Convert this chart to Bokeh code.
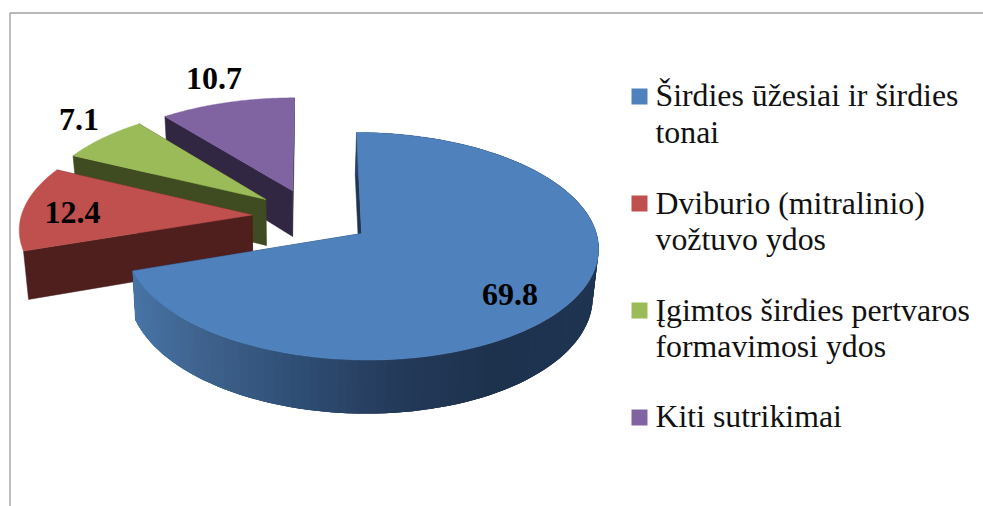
import numpy as np
from bokeh.plotting import figure
from bokeh.models import Range1d
from bokeh.core.properties import value
from bokeh.embed import file_html
from bokeh.resources import INLINE

categories = ["Širdies ūžesiai ir širdies tonai", "Dviburio (mitralinio) vožtuvo ydos",
              "Įgimtos širdies pertvaros formavimosi ydos", "Kiti sutrikimai"]
legend_lines = [["Širdies ūžesiai ir širdies", "tonai"], ["Dviburio (mitralinio)", "vožtuvo ydos"],
                ["Įgimtos širdies pertvaros", "formavimosi ydos"], ["Kiti sutrikimai"]]
values = [69.8, 12.4, 7.1, 10.7]
labels = ["69.8", "12.4", "7.1", "10.7"]
top_colors = ["#4f81bd", "#c0504d", "#9bbb59", "#8064a2"]
wall_colors = ["#1f3552", "#4f1f1e", "#3f4b20", "#322743"]

# projection of the tilted, exploded pie
EXPL, K, R, B, X0, Y0 = 0.26, 0.11, 231.0, 108.6, 311.4, 216.3
DEPTH, VX, SHRINK = 46.8, 288.0, 0.981
label_xy = [(509.5, 305), (72, 222.5), (78.5, 130), (213.5, 89)]
legend_y = [[105.7, 142.7], [214, 250], [320.7, 356.7], [427.3]]
legend_sq = [96, 203, 310, 417]
grad_x = [135, 200, 300, 400, 500, 600]
grad_r = [0x47, 0x40, 0x2f, 0x25, 0x1d, 0x1f]
grad_g = [0x74, 0x64, 0x4f, 0x3b, 0x32, 0x35]
grad_b = [0xa6, 0x8f, 0x75, 0x5b, 0x4d, 0x52]
TEXT_SHIFT = -11


def top_pt(U, V):
    s = 1 / (1 - K * np.asarray(V))
    return X0 + R * np.asarray(U) * s, Y0 + B * np.asarray(V) * s


def bot_pt(U, V):
    x, y = top_pt(U, V)
    s = 1 / (1 - K * np.asarray(V))
    return VX + (x - VX) * SHRINK, y + DEPTH * s


p = figure(width=983, height=506, output_backend="svg", toolbar_location=None,
           x_range=Range1d(0, 983), y_range=Range1d(506, 0), min_border=0,
           outline_line_color=None, background_fill_color="white", border_fill_color="white")
p.axis.visible = False
p.grid.visible = False

# frame
p.line([983, 9.5, 9.5], [12.5, 12.5, 506], line_color="#a3a3a3", line_width=1.4)

edges = np.cumsum([0] + values) / sum(values) * 2 * np.pi
for i in [3, 2, 1, 0]:
    a0, a1 = edges[i], edges[i + 1]
    mid = (a0 + a1) / 2
    cU, cV = EXPL * np.sin(mid), -EXPL * np.cos(mid)
    t = np.linspace(a0, a1, 121)
    U, V = cU + np.sin(t), cV - np.cos(t)
    xt, yt = top_pt(U, V)
    xb, yb = bot_pt(U, V)
    cxt, cyt = top_pt(cU, cV)
    cxb, cyb = bot_pt(cU, cV)
    # radial walls
    for j in (0, -1):
        p.patch([cxt, xt[j], xb[j], cxb], [cyt, yt[j], yb[j], cyb],
                fill_color=wall_colors[i], line_color=wall_colors[i], line_width=0.5)
    # rim wall of the large slice: neighbouring pieces overlap so no seams show
    if i == 0:
        xs, ys, cols = [], [], []
        for j in range(len(t) - 1):
            k = min(j + 3, len(t) - 1)
            xs.append([*xt[j:k + 1], *xb[j:k + 1][::-1]])
            ys.append([*yt[j:k + 1], *yb[j:k + 1][::-1]])
            cols.append("#%02x%02x%02x" % (int(np.interp(xt[j], grad_x, grad_r)),
                                           int(np.interp(xt[j], grad_x, grad_g)),
                                           int(np.interp(xt[j], grad_x, grad_b))))
        p.patches(xs, ys, fill_color=cols, line_color=None)
    # top face
    p.patch([cxt, *xt], [cyt, *yt], fill_color=top_colors[i], line_color=top_colors[i], line_width=0.5)

# data labels
p.text([q[0] for q in label_xy], [q[1] for q in label_xy], text=labels, y_offset=TEXT_SHIFT,
       text_font=value("Liberation Serif"), text_font_style="bold", text_font_size="32px",
       text_align="center", text_baseline="alphabetic", text_color="black")

# legend
p.rect([639] * 4, legend_sq, width=16, height=16, fill_color=top_colors, line_color=None)
for lines, ys in zip(legend_lines, legend_y):
    p.text([655] * len(lines), ys, text=lines, y_offset=TEXT_SHIFT, text_font=value("Liberation Serif"),
           text_font_size="31.8px", text_align="left", text_baseline="alphabetic", text_color="#111111")

open("out.html", "w").write(file_html(p, INLINE))
